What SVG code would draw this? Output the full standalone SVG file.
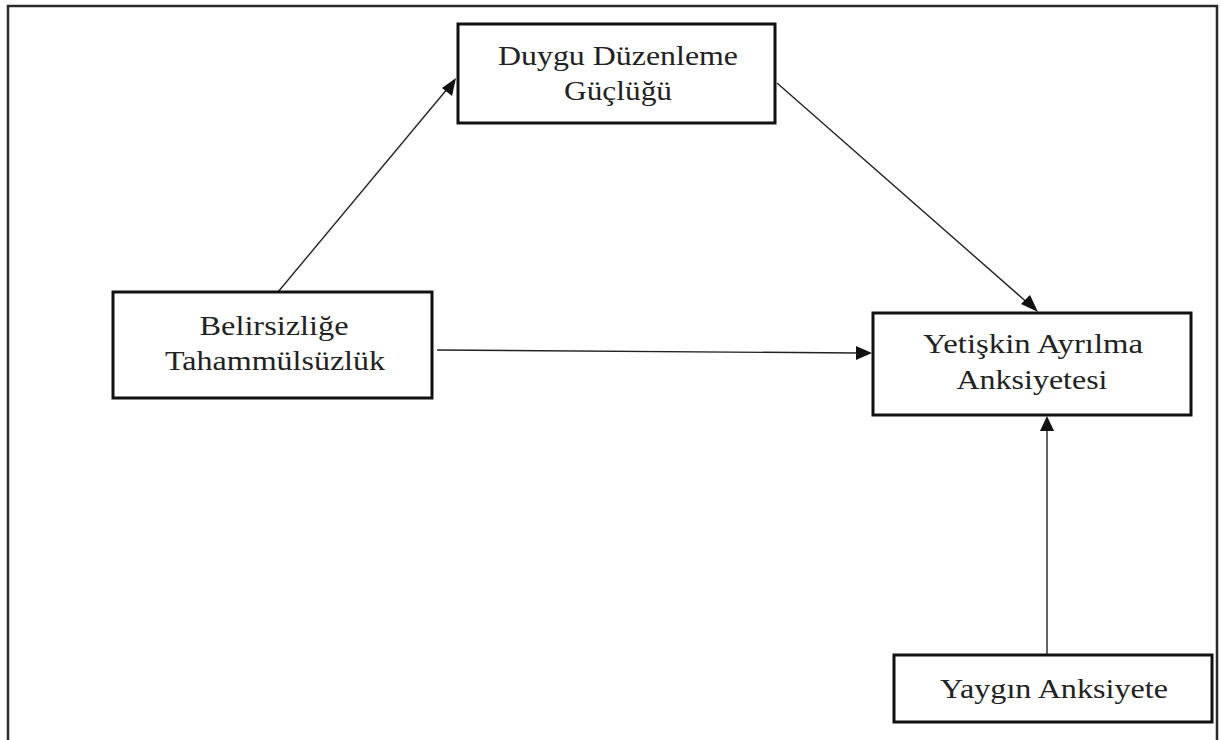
<svg xmlns="http://www.w3.org/2000/svg" width="1221" height="740" viewBox="0 0 1221 740">
<style>
.box{fill:#fff;stroke:#111;stroke-width:3}
.t{font-family:"Liberation Serif","Times New Roman",serif;font-size:28px;fill:#222;text-anchor:middle}
.c{stroke:#222;stroke-width:1.4;fill:none}
.h{fill:#111}
</style>
<rect width="1221" height="740" fill="#fff"/>
<path d="M8,740 V6 H1217 V740" fill="none" stroke="#2a2a2a" stroke-width="2.5"/>
<g id="connectors">
<line class="c" x1="278" y1="292" x2="448" y2="88"/>
<path class="h" d="M456,78 L442,88 L452,96 z"/>
<line class="c" x1="777" y1="83" x2="1030" y2="305"/>
<path class="h" d="M1038,312 L1021,304 L1030,295 z"/>
<line class="c" x1="437" y1="350" x2="858" y2="353"/>
<path class="h" d="M872,353 L856,346 L856,360 z"/>
<line class="c" x1="1047" y1="655" x2="1047" y2="428"/>
<path class="h" d="M1047,416 L1040,431 L1054,431 z"/>
</g>
<g id="node-duygu">
<rect class="box" x="458" y="24" width="317" height="99"/>
<text class="t" x="618" y="65" textLength="240" lengthAdjust="spacingAndGlyphs">Duygu Düzenleme</text>
<text class="t" x="618" y="100" textLength="108" lengthAdjust="spacingAndGlyphs">Güçlüğü</text>
</g>
<g id="node-belirsizlik">
<rect class="box" x="113" y="292" width="319" height="106"/>
<text class="t" x="274" y="335" textLength="149" lengthAdjust="spacingAndGlyphs">Belirsizliğe</text>
<text class="t" x="275" y="370" textLength="220" lengthAdjust="spacingAndGlyphs">Tahammülsüzlük</text>
</g>
<g id="node-yetiskin">
<rect class="box" x="873" y="313" width="318" height="102"/>
<text class="t" x="1033" y="353" textLength="220" lengthAdjust="spacingAndGlyphs">Yetişkin Ayrılma</text>
<text class="t" x="1032" y="389" textLength="151" lengthAdjust="spacingAndGlyphs">Anksiyetesi</text>
</g>
<g id="node-yaygin">
<rect class="box" x="894" y="655" width="318" height="67"/>
<text class="t" x="1054" y="698" textLength="228" lengthAdjust="spacingAndGlyphs">Yaygın Anksiyete</text>
</g>
</svg>
